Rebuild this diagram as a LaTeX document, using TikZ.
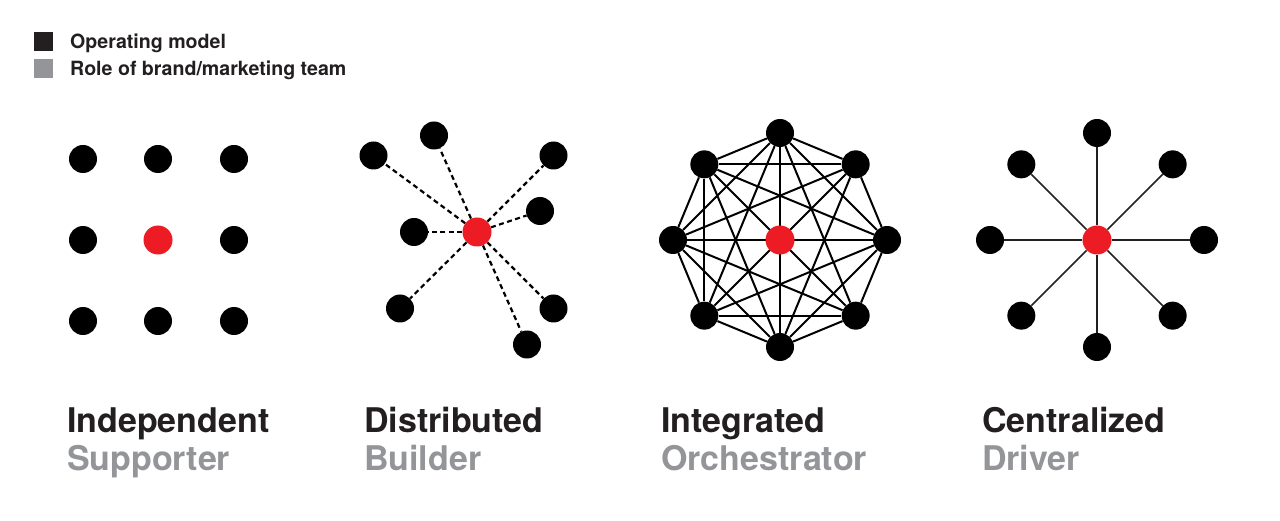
\documentclass[tikz,border=0pt]{standalone}
\usepackage{fontspec}
\setmainfont{TeX Gyre Heros}
\usetikzlibrary{backgrounds,calc}
\definecolor{ink}{HTML}{231F20}
\definecolor{hub}{HTML}{ED1C24}
\definecolor{soft}{HTML}{939598}
\tikzset{
  dot/.style={circle,fill=black,draw=none,minimum size=28pt,inner sep=0pt},
  hubdot/.style={circle,fill=hub,draw=none,minimum size=29pt,inner sep=0pt},
  dashlink/.style={draw=black,line width=2.2pt,dash pattern=on 5pt off 3.5pt},
  solidlink/.style={draw=black,line width=2pt},
  spoke/.style={draw=ink,line width=1.7pt},
  title/.style={anchor=base west,inner sep=0pt,font=\bfseries\fontsize{34}{37}\selectfont,text=ink},
  subtitle/.style={anchor=base west,inner sep=0pt,font=\bfseries\fontsize{34}{37}\selectfont,text=soft},
  legendtext/.style={anchor=base west,inner sep=0pt,font=\bfseries\fontsize{19.6}{22}\selectfont,text=ink},
  legendbox/.style={inner sep=0pt,minimum size=19pt,draw=none}
}
\begin{document}
\begin{tikzpicture}[x=1pt,y=-1pt]
\useasboundingbox (0,0) rectangle (1280,521);
% legend
\node[legendbox,fill=ink] (lb1) at (43.5,42) {};
\node[legendbox,fill=soft] (lb2) at (43.5,69) {};
\node[legendtext] (lt1) at (70,48.5) {Operating model};
\node[legendtext] (lt2) at (70,75.5) {Role of brand/marketing team};

% panel 1: Independent
\node[dot] (a1) at (83,159) {};
\node[dot] (a2) at (158,159) {};
\node[dot] (a3) at (234,159) {};
\node[dot] (a4) at (83,240) {};
\node[hubdot] (a5) at (158,240) {};
\node[dot] (a6) at (234,240) {};
\node[dot] (a7) at (83,321) {};
\node[dot] (a8) at (158,321) {};
\node[dot] (a9) at (234,321) {};

% panel 2: Distributed
\node[hubdot] (bc) at (477,232) {};
\node[dot] (b1) at (373.5,155.5) {};
\node[dot] (b2) at (434,135.5) {};
\node[dot] (b3) at (553.5,155.5) {};
\node[dot] (b4) at (540,211) {};
\node[dot] (b5) at (414,232) {};
\node[dot] (b6) at (400,308.5) {};
\node[dot] (b7) at (553.5,308.5) {};
\node[dot] (b8) at (527,344.5) {};
\begin{scope}[on background layer]
\foreach \n in {b1,b2,b3,b4,b5,b6,b7,b8}
  \draw[dashlink] (bc) -- (\n);
\end{scope}

% panel 3: Integrated
\node[hubdot] (cc) at (780,240) {};
\foreach \i/\ang in {1/90,2/45,3/0,4/-45,5/-90,6/-135,7/180,8/135}
  \node[dot] (c\i) at ($(780,240)+(\ang:107pt)$) {};
\begin{scope}[on background layer]
\foreach \i in {1,...,8}{
  \foreach \j in {1,...,8}{
    \ifnum\i<\j
      \ifnum\i=2 \ifnum\j=4 \else \draw[solidlink] (c\i) -- (c\j); \fi
      \else \draw[solidlink] (c\i) -- (c\j); \fi
    \fi
  }
}
\end{scope}

% panel 4: Centralized
\node[hubdot] (dc) at (1097,240) {};
\foreach \i/\ang in {1/90,2/45,3/0,4/-45,5/-90,6/-135,7/180,8/135}
  \node[dot] (d\i) at ($(1097,240)+(\ang:107pt)$) {};
\begin{scope}[on background layer]
\foreach \i in {1,...,8}
  \draw[spoke] (dc) -- (d\i);
\end{scope}

% labels
\node[title] (t1) at (67,432) {Independent};
\node[subtitle] (s1) at (67,470) {Supporter};
\node[title] (t2) at (364,432) {Distributed};
\node[subtitle] (s2) at (364,470) {Builder};
\node[title] (t3) at (661,432) {Integrated};
\node[subtitle] (s3) at (661,470) {Orchestrator};
\node[title] (t4) at (982,432) {Centralized};
\node[subtitle] (s4) at (982,470) {Driver};
\end{tikzpicture}
\end{document}
